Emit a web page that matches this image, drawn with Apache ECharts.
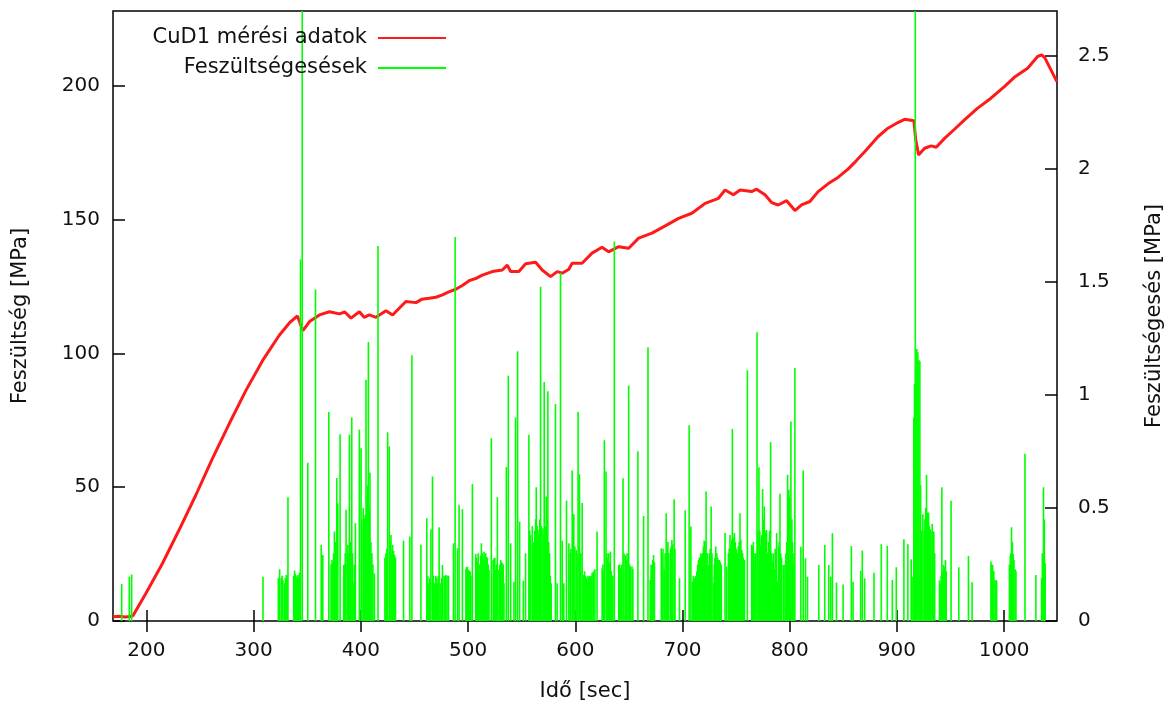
<!DOCTYPE html>
<html>
<head>
<meta charset="utf-8">
<script src="https://cdn.jsdelivr.net/npm/echarts@6/dist/echarts.min.js"></script>
<style>
html, body { margin: 0; padding: 0; background: #fff; }
#chart { width: 1173px; height: 708px; }
</style>
</head>
<body>
<div id="chart"></div>
<script>
// Series names and axis titles
const stressName = 'CuD1 mérési adatok';
const dropName = 'Feszültségesések';
const xTitle = 'Idő [sec]';
const yTitle = 'Feszültség [MPa]';
const y2Title = 'Feszültségesés [MPa]';

// Tick positions
const xTicks = [200, 300, 400, 500, 600, 700, 800, 900, 1000];
const yTicks = [0, 50, 100, 150, 200];
const y2Ticks = [0, 0.5, 1, 1.5, 2, 2.5];

// Measured stress curve: [time s, stress MPa]
const stress = [
  [168.8, 1.6], [175, 1.8], [180, 1.5], [185, 1.7], [187.4, 2.0], [199.4, 10.3], [214.9, 21.5],
  [230.4, 34], [246, 47], [261.5, 60.7], [277.4, 73.9], [292.8, 86.2], [308.4, 97.4],
  [323.9, 106.8], [333.5, 111.5], [340.8, 114], [342.5, 113.9], [345.9, 108.5], [347, 108.2],
  [352.1, 111.9], [361.4, 114.4], [370.7, 115.6], [380, 114.8], [385, 115.5], [390.8, 113.2],
  [398.6, 115.6], [403, 113.5], [407.9, 114.4], [414.1, 113.5], [423.4, 116], [429.6, 114.4],
  [436, 117], [442, 119.4], [451.4, 119], [457, 120.3], [463.7, 120.6], [470, 121],
  [476.1, 121.9], [482, 123], [488.6, 124], [495, 125.5], [501, 127.2], [507, 128],
  [513.3, 129.3], [522.6, 130.6], [531.9, 131.2], [536.6, 133], [539.7, 130.6], [547.4, 130.6],
  [553.7, 133.5], [563, 134.1], [569.1, 131.2], [577, 128.7], [583.1, 130.6], [587.8, 130],
  [594, 131.5], [597, 133.7], [606.3, 133.7], [615.6, 137.5], [624.9, 139.7], [631.1, 138],
  [640.5, 139.9], [649.8, 139.3], [659.1, 143.1], [671.5, 145], [683.9, 147.7], [696.3, 150.5],
  [708.7, 152.4], [721.1, 156.1], [733.5, 158], [739.7, 161.1], [747.4, 159.3], [753.7, 161.1],
  [764.5, 160.5], [769.1, 161.4], [776.9, 159.3], [783.1, 156.4], [789.3, 155.5], [797.1, 157.1],
  [804.9, 153.4], [811, 155.5], [818.8, 156.8], [826.5, 160.5], [836, 163.5], [845, 165.8],
  [854.4, 168.9], [862, 172], [869.9, 175.4], [882.3, 181], [891.6, 184.2], [900.9, 186.3],
  [907.1, 187.5], [915.8, 187], [917.5, 180], [920.2, 174.2], [925.8, 176.7], [931.9, 177.6],
  [936.6, 177.1], [944.4, 180.4], [953.7, 183.8], [963, 187.3], [975.3, 191.7], [987.7, 195.4],
  [1000.2, 199.7], [1009.5, 203.2], [1021.9, 206.6], [1031.2, 211], [1035, 211.6],
  [1038, 210.5], [1049.2, 201.6]
];

// Stress drops: [time s, drop MPa]
const drops = [
  [176.9, 0.164], [184, 0.196], [186.2, 0.206],
  [308.7, 0.196], [324.2, 0.229], [325.7, 0.19], [327.3, 0.182], [328.8, 0.167], [330.4, 0.204],
  [332.0, 0.548], [338.1, 0.223], [339.7, 0.189], [341.2, 0.204], [342.8, 0.214], [343.7, 1.60],
  [345.3, 3.5], [350.5, 0.70], [357.7, 1.467], [363.0, 0.337], [364.5, 0.292], [370.1, 0.925],
  [373.8, 0.256], [375.3, 0.396], [377.5, 0.633], [378.5, 0.52], [380.6, 0.827], [384.0, 0.248],
  [386.2, 0.492], [387.8, 0.337], [389.3, 0.825], [391.5, 0.901], [393.0, 0.167], [394.9, 0.433],
  [398.6, 0.847], [400.2, 0.765], [403.3, 0.455], [404.8, 1.068], [407.0, 1.235], [408.5, 0.657],
  [412.6, 0.211], [416.0, 1.66], [423.4, 0.30], [425.0, 0.835], [426.5, 0.773], [428.1, 0.381],
  [429.6, 0.337], [431.5, 0.292], [439.8, 0.356], [445.7, 0.374], [447.6, 1.176], [456.0, 0.338],
  [461.5, 0.455], [462.3, 0.2], [463.1, 0.167], [464.2, 0.19], [465.3, 0.406], [466.8, 0.64],
  [467.6, 0.2], [468.4, 0.167], [469.9, 0.2], [470.7, 0.19], [471.5, 0.167], [472.2, 0.2],
  [473.0, 0.415], [474.6, 0.167], [475.3, 0.19], [476.1, 0.248], [477.6, 0.2], [478.4, 0.19],
  [479.2, 0.204], [480.4, 0.2], [481.7, 0.201], [486.4, 0.344], [487.9, 1.70], [490.1, 0.322],
  [491.6, 0.514], [494.7, 0.495], [498.5, 0.238], [500.3, 0.226], [501.9, 0.219], [504.0, 0.606],
  [507.1, 0.297], [510.2, 0.219], [512.4, 0.344], [514.9, 0.307], [517.1, 0.285], [519.5, 0.226],
  [521.7, 0.809], [524.2, 0.278], [525.7, 0.226], [527.3, 0.548], [528.8, 0.226], [530.4, 0.27],
  [532.0, 0.256], [533.5, 0.167], [535.7, 0.681], [537.5, 1.086], [539.7, 0.344], [542.8, 0.174],
  [544.3, 0.901], [546.2, 1.194], [548.1, 0.44], [551.5, 0.179], [553.6, 0.30], [556.7, 0.824],
  [561.4, 0.310], [563.6, 0.592], [565.1, 0.403], [567.6, 1.479], [569.8, 0.411], [571.0, 1.058],
  [572.9, 0.551], [574.4, 1.017], [577.5, 0.167], [581.5, 0.960], [583.1, 0.167], [586.2, 1.541],
  [587.8, 0.356], [589.3, 0.167], [591.8, 0.533], [594.0, 0.344], [597.1, 0.666], [598.6, 0.473],
  [600.8, 0.315], [602.6, 0.925], [603.9, 0.650], [606.4, 0.522], [607.9, 0.204], [611.0, 0.174],
  [614.1, 0.196], [615.7, 0.214], [620.3, 0.396], [625.0, 0.233], [627.1, 0.80], [628.7, 0.662],
  [632.7, 0.307], [634.3, 0.196], [636.4, 1.68], [640.5, 0.248], [642.0, 0.233], [644.5, 0.632],
  [646.7, 0.292], [649.8, 1.042], [652.9, 0.241], [658.4, 0.751], [663.7, 0.465], [667.8, 1.212],
  [669.9, 0.182], [671.5, 0.248], [673.0, 0.292], [680.2, 0.322], [682.9, 0.229], [684.8, 0.477],
  [690.1, 0.359], [692.2, 0.539], [697.2, 0.189], [702.5, 0.489], [706.2, 0.866], [707.8, 0.418],
  [709.3, 0.174], [713.3, 0.219], [716.4, 0.282], [718.0, 0.292], [720.2, 0.356], [722.0, 0.573],
  [724.2, 0.248], [726.7, 0.507], [728.8, 0.167], [731.0, 0.33], [734.4, 0.27], [739.7, 0.389],
  [741.2, 0.241], [744.3, 0.381], [746.5, 0.85], [748.4, 0.389], [753.6, 0.477], [755.2, 0.315],
  [757.7, 0.27], [760.5, 1.11], [764.5, 0.337], [767.6, 0.248], [769.5, 1.278], [771.3, 0.681],
  [772.9, 0.337], [774.7, 0.584], [776.3, 0.507], [778.4, 0.403], [779.4, 0.303], [782.2, 0.792],
  [783.7, 0.263], [785.6, 0.229], [787.8, 0.389], [788.7, 0.174], [790.9, 0.563], [794.0, 0.248],
  [798.0, 0.647], [799.2, 0.581], [801.1, 0.883], [803.3, 0.248], [804.8, 1.12], [810.4, 0.329],
  [812.6, 0.666], [814.7, 0.278], [816.6, 0.196], [827.1, 0.248], [832.7, 0.337], [836.4, 0.248],
  [838.3, 0.196], [839.8, 0.389], [843.6, 0.170], [849.8, 0.162], [857.5, 0.332], [859.1, 0.174],
  [866.2, 0.223], [867.7, 0.312], [869.9, 0.189], [878.6, 0.214], [885.4, 0.34], [891.0, 0.332],
  [895.7, 0.182], [899.4, 0.238], [906.5, 0.362], [910.2, 0.34], [913.3, 0.273], [914.9, 0.196],
  [917.1, 3.5], [918.6, 1.204], [919.5, 1.19], [920.5, 1.155], [921.4, 1.15], [924.2, 0.473],
  [927.6, 0.647], [929.5, 0.48], [931.0, 0.406], [932.9, 0.43], [934.4, 0.396], [940.6, 0.164],
  [941.9, 0.592], [943.4, 0.248], [945.3, 0.27], [950.5, 0.532], [957.7, 0.238], [966.7, 0.288],
  [970.1, 0.171], [987.7, 0.263], [989.3, 0.248], [991.5, 0.182], [993.0, 0.179], [1005.7, 0.288],
  [1006.9, 0.415], [1008.5, 0.297], [1010.4, 0.229], [1019.4, 0.74], [1029.6, 0.204],
  [1034.9, 0.189], [1036.7, 0.592], [1038.3, 0.256],
  // smaller drops packed inside the dense stretches
  [323.0, 0.19], [326.5, 0.2], [329.6, 0.19], [331.2, 0.2],
  [337.3, 0.2], [338.9, 0.21], [340.5, 0.2], [342.0, 0.19],
  [372.2, 0.25], [373.0, 0.27], [374.6, 0.3], [376.4, 0.35],
  [384.8, 0.25], [385.4, 0.3], [388.5, 0.3], [390.4, 0.35], [392.2, 0.3], [393.9, 0.25],
  [401.0, 0.45], [402.2, 0.5], [404.0, 0.47], [405.8, 0.55], [406.2, 0.6], [407.8, 0.5],
  [409.4, 0.35], [410.3, 0.3], [411.2, 0.25],
  [422.4, 0.28], [424.2, 0.32], [427.3, 0.35], [428.9, 0.3], [430.5, 0.31], [432.3, 0.28],
  [498.0, 0.23], [499.4, 0.24], [501.1, 0.22], [502.7, 0.2],
  [507.9, 0.28], [508.7, 0.26], [509.4, 0.3], [511.0, 0.25], [511.7, 0.29], [513.2, 0.3],
  [514.1, 0.28], [515.7, 0.27], [516.4, 0.3], [518.0, 0.28], [518.7, 0.25],
  [523.4, 0.27], [525.0, 0.28], [526.5, 0.25], [529.6, 0.25], [531.2, 0.26], [532.7, 0.25],
  [557.5, 0.4], [558.4, 0.38], [559.9, 0.42], [560.7, 0.35], [562.2, 0.4], [563.0, 0.45],
  [564.4, 0.42], [566.0, 0.38], [566.8, 0.45], [568.4, 0.42], [570.5, 0.38], [572.1, 0.42],
  [573.6, 0.45], [575.2, 0.35], [576.0, 0.3], [576.7, 0.2],
  [595.2, 0.3], [595.9, 0.32], [599.6, 0.33], [601.6, 0.3], [605.1, 0.3], [608.7, 0.22],
  [609.5, 0.2], [610.2, 0.19], [611.8, 0.2], [612.6, 0.19], [613.4, 0.2], [614.9, 0.2],
  [617.0, 0.22], [618.3, 0.23],
  [625.8, 0.25], [626.4, 0.22], [629.5, 0.3], [630.3, 0.28], [631.1, 0.3], [631.9, 0.26],
  [633.5, 0.22], [635.1, 0.2],
  [641.3, 0.25], [643.2, 0.25], [645.4, 0.3], [647.5, 0.27], [648.3, 0.3], [650.7, 0.25],
  [651.5, 0.24], [653.7, 0.23],
  [670.7, 0.25], [672.3, 0.27], [673.8, 0.26],
  [681.0, 0.3], [681.8, 0.32], [683.7, 0.3], [685.6, 0.33], [686.4, 0.35], [687.2, 0.3],
  [688.8, 0.32], [689.4, 0.33], [691.0, 0.34], [693.0, 0.32],
  [710.1, 0.2], [711.0, 0.19], [712.3, 0.2],
  [714.1, 0.25], [714.9, 0.27], [715.6, 0.28], [717.2, 0.3], [718.8, 0.3], [719.5, 0.33],
  [721.2, 0.35], [723.0, 0.3], [725.0, 0.3], [725.8, 0.32], [727.5, 0.3], [729.6, 0.25],
  [730.2, 0.28], [732.0, 0.3], [732.8, 0.28], [733.6, 0.27], [735.3, 0.26], [736.2, 0.25],
  [742.8, 0.3], [743.5, 0.32], [745.1, 0.33], [745.9, 0.36], [747.3, 0.37], [749.3, 0.35],
  [750.1, 0.32], [751.0, 0.3], [752.0, 0.33], [752.8, 0.35], [754.4, 0.36], [756.0, 0.3],
  [756.8, 0.28],
  [765.3, 0.33], [766.1, 0.35], [766.8, 0.3], [768.3, 0.3], [770.3, 0.4], [772.1, 0.4],
  [773.8, 0.38], [775.5, 0.45], [777.1, 0.4], [777.7, 0.38], [780.3, 0.35], [781.2, 0.4],
  [783.0, 0.3], [784.6, 0.3], [786.4, 0.32], [787.1, 0.3], [789.6, 0.33], [790.2, 0.35],
  [791.7, 0.3], [792.4, 0.28],
  [795.5, 0.25], [796.4, 0.3], [797.2, 0.35], [798.6, 0.55], [800.0, 0.55], [802.0, 0.45],
  [802.6, 0.35], [804.0, 0.3],
  [915.7, 0.9], [916.4, 1.05], [917.8, 1.15], [922.1, 0.6], [922.8, 0.4],
  [925.4, 0.4], [926.1, 0.45], [926.8, 0.5], [928.3, 0.48], [929.0, 0.45], [930.2, 0.42],
  [931.8, 0.4], [933.6, 0.38], [935.2, 0.3],
  [939.7, 0.18], [941.2, 0.2], [942.6, 0.22], [944.2, 0.24], [946.0, 0.22],
  [988.5, 0.25], [990.4, 0.22], [992.3, 0.18],
  [1004.9, 0.25], [1006.2, 0.3], [1007.7, 0.35], [1009.2, 0.27], [1011.0, 0.22],
  [1035.6, 0.3], [1037.5, 0.45]
];

const FONT = 'DejaVu Sans';
const INK = '#111';
const GREEN = '#00ff00';
const RED = '#ff1a1a';
const tickStyle = { color: '#000', width: 1.5 };
const tickText = { fontFamily: FONT, fontSize: 20, color: INK };
const titleText = { fontFamily: FONT, fontSize: 21, color: INK };
const plain = v => String(v);
const IMPULSE_W = 1.6;

const chart = echarts.init(document.getElementById('chart'), null, { renderer: 'canvas' });

function legendFor(name, top) {
  return {
    data: [name], right: 727, top: top, orient: 'horizontal', align: 'right',
    icon: 'rect', itemWidth: 68, itemHeight: 2, padding: 0, selectedMode: false,
    textStyle: Object.assign({ padding: [0, 6, 0, 0], lineHeight: 24 }, titleText)
  };
}

// Impulse: a thin vertical stroke from zero up to the value
function renderImpulse(params, api) {
  const t = api.value(0);
  const top = api.coord([t, api.value(1)]);
  const base = api.coord([t, 0]);
  return {
    type: 'rect',
    shape: { x: top[0] - IMPULSE_W / 2, y: top[1], width: IMPULSE_W, height: base[1] - top[1] },
    style: { fill: GREEN }
  };
}

chart.setOption({
  animation: false,
  backgroundColor: '#fff',
  grid: {
    left: 113, right: 114, top: 11, bottom: 87,
    show: true, borderColor: '#000', borderWidth: 1.5, backgroundColor: 'transparent'
  },
  legend: [legendFor(stressName, 26), legendFor(dropName, 56)],
  xAxis: [
    {
      type: 'value', min: 168.8, max: 1049.3, position: 'bottom',
      axisLine: { show: false }, splitLine: { show: false },
      axisTick: { inside: true, length: 11, customValues: xTicks, lineStyle: tickStyle },
      axisLabel: Object.assign({ customValues: xTicks, margin: 20, formatter: plain }, tickText),
      name: xTitle, nameLocation: 'middle', nameGap: 60, nameTextStyle: titleText
    },
    {
      type: 'value', min: 168.8, max: 1049.3, position: 'top',
      axisLine: { show: false }, splitLine: { show: false },
      axisTick: { inside: true, length: 11, customValues: xTicks, lineStyle: tickStyle },
      axisLabel: { show: false }
    }
  ],
  yAxis: [
    {
      type: 'value', min: 0, max: 228, position: 'left',
      axisLine: { show: false }, splitLine: { show: false },
      axisTick: { inside: true, length: 12, customValues: yTicks, lineStyle: tickStyle },
      axisLabel: Object.assign({ customValues: yTicks, margin: 13, formatter: plain }, tickText),
      name: yTitle, nameLocation: 'middle', nameGap: 82, nameRotate: 90, nameTextStyle: titleText
    },
    {
      type: 'value', min: 0, max: 2.7, position: 'right',
      axisLine: { show: false }, splitLine: { show: false },
      axisTick: { inside: true, length: 12, customValues: y2Ticks, lineStyle: tickStyle },
      axisLabel: Object.assign({ customValues: y2Ticks, margin: 21, formatter: plain }, tickText),
      name: y2Title, nameLocation: 'middle', nameGap: 87, nameRotate: 90, nameTextStyle: titleText
    }
  ],
  series: [
    {
      name: stressName, type: 'line', xAxisIndex: 0, yAxisIndex: 0, data: stress,
      showSymbol: false, symbol: 'none', z: 2,
      lineStyle: { color: RED, width: 3 }, itemStyle: { color: RED }
    },
    {
      name: dropName, type: 'custom', xAxisIndex: 0, yAxisIndex: 1, data: drops,
      encode: { x: 0, y: 1 }, renderItem: renderImpulse, clip: true, z: 3,
      itemStyle: { color: GREEN }
    }
  ]
});
</script>
</body>
</html>
